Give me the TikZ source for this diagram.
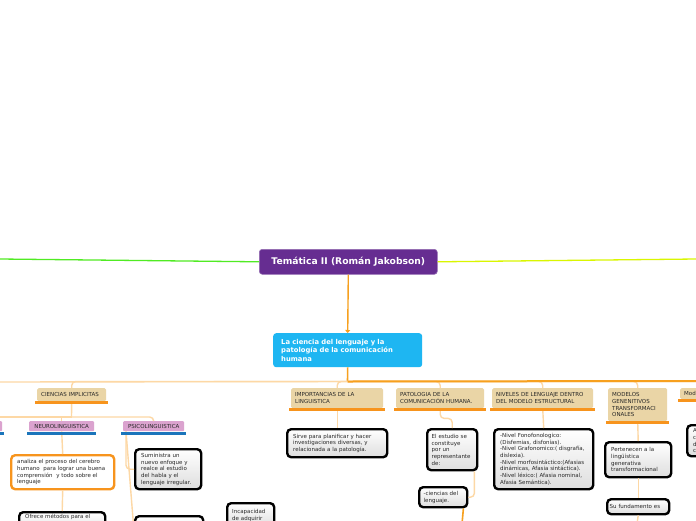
\documentclass[tikz,border=0pt]{standalone}
\usepackage{fontspec}
\setmainfont{DejaVu Sans}
\usetikzlibrary{arrows.meta}
\definecolor{purp}{RGB}{102,45,145}
\definecolor{skyb}{RGB}{30,182,242}
\definecolor{tanc}{RGB}{234,213,166}
\definecolor{pinkc}{RGB}{219,163,207}
\definecolor{barblue}{RGB}{27,117,187}
\definecolor{orng}{RGB}{247,160,30}
\definecolor{barorng}{RGB}{247,148,29}
\definecolor{peach}{RGB}{253,216,165}
\definecolor{grn}{RGB}{80,235,35}
\definecolor{ylw}{RGB}{218,246,0}
\definecolor{txt}{RGB}{40,40,40}
\begin{document}
\begin{tikzpicture}[x=1pt,y=-1pt,
  titlebox/.style={fill=purp, draw=purp!70!white, line width=0.6, rounded corners=3, text=white, font=\fontsize{9.2}{11}\selectfont\bfseries, anchor=north west, inner sep=0},
  bluebox/.style={fill=skyb, rounded corners=3, text=white, font=\fontsize{6.8}{8.6}\selectfont\bfseries, align=left, anchor=north west, inner xsep=8, inner ysep=2},
  catbox/.style={fill=tanc, rounded corners=1.5, text=txt, font=\fontsize{5.5}{6.8}\selectfont, align=left, anchor=north west, inner xsep=4, inner ysep=1},
  pinkbox/.style={fill=pinkc, rounded corners=1, text=txt, font=\fontsize{5.5}{6.8}\selectfont, align=center, anchor=north west, inner sep=1},
  blkbox/.style={draw=black, line width=2.4, rounded corners=4, top color=white, bottom color=black!13, text=txt, font=\fontsize{5.5}{6.7}\selectfont, align=left, anchor=north west, inner xsep=6, inner ysep=3},
  orgbox/.style={blkbox, draw=barorng, top color=white, bottom color=white},
  obar/.style={barorng, line width=3},
  bbar/.style={barblue, line width=3},
  lite/.style={peach, line width=1.4, rounded corners=4},
  org/.style={orng, line width=1.6}
]
\useasboundingbox (0,0) rectangle (696,520);
\fill[white] (0,0) rectangle (696,520);

% main nodes
\node[titlebox, minimum width=178, minimum height=25] (t) at (259,249) {Temática II (Román Jakobson)};
\node[bluebox, minimum width=149, minimum height=34, text width=133] (b) at (273,333) {La ciencia del lenguaje y la\\patología de la comunicación\\humana};

% categories
\node[catbox, minimum width=69, minimum height=13, text width=61] (c1) at (37,388) {CIENCIAS IMPLICITAS};
\node[catbox, minimum width=92, minimum height=20, text width=84] (c2) at (291,388) {IMPORTANCIAS DE LA\\LINGUISTICA};
\node[catbox, minimum width=88, minimum height=20, text width=80] (c3) at (396,388) {PATOLOGIA DE LA\\COMUNICACIÓN HUMANA.};
\node[catbox, minimum width=101, minimum height=20, text width=93] (c4) at (492,388) {NIVELES DE LENGUAJE DENTRO\\DEL MODELO ESTRUCTURAL};
\node[catbox, minimum width=59, minimum height=33, text width=51] (c5) at (608,388) {MODELOS\\GENENITIVOS\\TRANSFORMACI\\ONALES};
\node[catbox, minimum width=70, minimum height=11, text width=62] (c6) at (680,388) {Mod};

% pink sub-categories
\node[pinkbox, minimum width=62, minimum height=10] (p0) at (-60,421) {};
\node[pinkbox, minimum width=65, minimum height=10] (n1) at (29,421) {NEUROLINGUISTICA};
\node[pinkbox, minimum width=61, minimum height=10] (n2) at (123,421) {PSICOLINGUISTICA};

% content boxes
\node[orgbox, minimum width=103, minimum height=34, text width=91] (o1) at (10,454) {analiza el proceso del cerebro\\humano\ \ para lograr una buena\\comprensión\ \ y todo sobre el\\lenguaje};
\node[blkbox, minimum width=86, text width=74, inner ysep=2, text depth=14] (of) at (18,511) {Ofrece métodos para el};
\node[blkbox, minimum width=66, minimum height=40, text width=54] (s1) at (134,448) {Suministra un\\nuevo enfoque y\\realce al estudio\\del habla y el\\lenguaje irregular.};
\node[blkbox, minimum width=68, minimum height=30] (s2) at (134,515) {};
\node[blkbox, minimum width=47, minimum height=24, text width=37, inner xsep=5] (inc) at (226,502) {Incapacidad\\de adquirir};
\node[blkbox, minimum width=100, minimum height=28, text width=88] (i1) at (286,428) {Sirve para planificar y hacer\\investigaciones diversas, y\\relacionada a la patología.};
\node[blkbox, minimum width=50, minimum height=41, text width=41, inner xsep=4.5] (e1) at (426,428) {El estudio se\\constituye\\por un\\representante\\de:};
\node[blkbox, minimum width=48, minimum height=20, text width=39, inner xsep=4.5] (k1) at (418,486) {-ciencias del\\lenguaje.};
\node[blkbox, minimum width=99, minimum height=60, text width=87] (v1) at (493,428) {-Nivel Fonofonologico:\\(Disfemias, disfonías).\\-Nivel Grafonomico:( disgrafía,\\dislexia).\\-Nivel morfosintáctico:(Afasias\\dinámicas, Afasia sintáctica).\\-Nivel léxico:( Afasia nominal,\\Afasia Semántica).};
\node[blkbox, minimum width=66, minimum height=35, text width=54] (m1) at (604,441) {Pertenecen a la\\lingüística\\generativa\\transformacional};
\node[blkbox, minimum width=62, minimum height=15, text width=57, inner xsep=2.5] (m2) at (606,498) {Su fundamento es};
\node[blkbox, minimum width=60, minimum height=31, text width=48] (r1) at (686,424) {A\\c\\d\\c};

% title side lines and arrow
\coordinate (gl) at (0,259);
\coordinate (yr) at (696,259);
\draw[grn, line width=1.3] (t.west) -- (gl);
\draw[ylw, line width=1.3] (t.east) -- (yr);
\draw[org, line width=1.4, -{Triangle[width=5,length=3]}] (t.south) -- (b.north);

% main bus
\coordinate (bj) at (347.5,381.5);
\coordinate (bl) at (0,382);
\coordinate (br) at (696,381);
\draw[org] (b.south) -- (bj);
\foreach \c in {c1,c2,c3,c4,c5,c6} \draw[lite] (\c.north) |- (bj);
\draw[lite] (bj) -- (bl);
\draw[org, line width=2] (bj) -- (br);

% ciencias implicitas sub-bus
\coordinate (cj) at (71.5,417);
\coordinate (lf) at (0,417);
\draw[lite] (c1.south) -- (cj);
\draw[lite] (cj) -- (lf);
\draw[lite] (cj) -| (n2.north);
\draw[lite] (n1.north) -- (n1.north |- cj);

% neuro / psico
\draw[lite] (n1.south) -- (o1.north);
\draw[lite] (o1.south) -- (of.north);
\draw[lite] ([xshift=3]n2.south west) |- (s1.west);
\draw[lite, rounded corners=0] ([xshift=3]n2.south west) -- (s2.west);

% other branches
\draw[lite] (c2.south) -- (i1.north);
\draw[lite] (c3.south) -- ++(0,10) -| (e1.north);
\draw[lite] ([xshift=-4]e1.south east) |- (k1.east);
\coordinate (kf) at (462,524);
\draw[org] ([xshift=-5]k1.south east) -- (kf);
\draw[lite] (c4.south) -- (v1.north);
\draw[lite] (c5.south) -- (m1.north);
\draw[lite] (m1.south) -- (m2.north);
\coordinate (mf) at (637,524);
\draw[lite] (m2.south) -- (mf);
\draw[lite] (c6.south) -- (r1.north);

% underline bars
\foreach \c in {c1,c2,c3,c4,c5,c6}
  \draw[obar] ([shift={(-2,1.5)}]\c.south west) -- ([shift={(2,1.5)}]\c.south east);
\foreach \c in {p0,n1,n2}
  \draw[bbar] ([shift={(-2,2)}]\c.south west) -- ([shift={(2,2)}]\c.south east);
\end{tikzpicture}
\end{document}
